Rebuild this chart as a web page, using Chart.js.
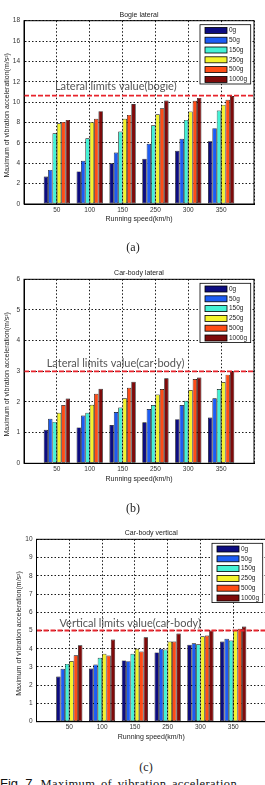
<!DOCTYPE html>
<html>
<head>
<meta charset="utf-8">
<script src="https://cdn.jsdelivr.net/npm/chart.js@4/dist/chart.umd.min.js"></script>
<style>
html, body { margin: 0; padding: 0; background: #fff; width: 265px; height: 785px; overflow: hidden; position: relative; }
.plot { position: absolute; left: 0; }
.cap { position: absolute; font-family: 'Liberation Serif', serif; font-size: 12px; line-height: 12px; color: #222; transform: translateX(-50%); }
#fig { position: absolute; left: 0; top: 776px; white-space: nowrap; line-height: 14px; color: #111; }
#fig .n { font-family: 'Liberation Sans', sans-serif; font-size: 13px; }
#fig .t { font-family: 'Liberation Serif', serif; font-size: 12.5px; letter-spacing: 0.4px; word-spacing: 2px; margin-left: 8px; }
</style>
</head>
<body>
<div class="plot" style="top:0"><canvas id="chartA" width="265" height="232"></canvas></div>
<div class="plot" style="top:250px"><canvas id="chartB" width="265" height="240"></canvas></div>
<div class="plot" style="top:510px"><canvas id="chartC" width="280" height="240"></canvas></div>
<div class="cap" style="left:133px;top:241px">(a)</div>
<div class="cap" style="left:133px;top:502px">(b)</div>
<div class="cap" style="left:146px;top:761px">(c)</div>
<div id="fig"><span class="n">Fig. 7</span><span class="t">Maximum of vibration acceleration</span></div>
<script>
// speeds on the x axis, loads are the series
const speeds = ['50', '100', '150', '250', '300', '350'];
const loads = ['0g', '50g', '150g', '250g', '500g', '1000g'];
const loadColors = ['#0c0c80', '#1c5cf4', '#44f2d6', '#f4f42c', '#ff4c16', '#7e0a0a'];

// Bogie lateral, one row per load
const bogieLateral = [
    [2.7, 3.2, 4.0, 4.44, 5.23, 6.15],
    [3.35, 4.25, 5.06, 5.91, 6.4, 7.45],
    [6.95, 6.45, 7.12, 7.74, 8.26, 9.17],
    [7.93, 8.04, 8.36, 8.82, 9.08, 9.73],
    [8.06, 8.36, 8.75, 9.4, 10.13, 10.23],
    [8.26, 9.12, 9.82, 10.16, 10.42, 10.6]
];
// Car-body lateral
const carbodyLateral = [
    [1.09, 1.17, 1.25, 1.34, 1.44, 1.49],
    [1.45, 1.56, 1.67, 1.77, 1.9, 2.12],
    [1.35, 1.65, 1.82, 1.9, 2.04, 2.42],
    [1.65, 1.91, 2.12, 2.24, 2.39, 2.65],
    [1.9, 2.27, 2.46, 2.42, 2.75, 2.89],
    [2.11, 2.43, 2.66, 2.77, 2.8, 3.0]
];
// Car-body vertical
const carbodyVertical = [
    [2.48, 2.92, 3.36, 3.8, 4.22, 4.4],
    [2.9, 3.13, 3.32, 4.0, 4.3, 4.55],
    [3.17, 3.5, 3.72, 3.96, 4.24, 4.45],
    [3.33, 3.72, 4.0, 4.4, 4.68, 5.02],
    [3.64, 3.63, 3.85, 4.4, 4.72, 5.1],
    [4.19, 4.5, 4.63, 4.83, 5.0, 5.22]
];

const titles = ['Bogie lateral', 'Car-body lateral', 'Car-body vertical'];
const limits = [10.65, 3.0, 5.0];
const limitLabels = ['Lateral limits value(bogie)', 'Lateral limits value(car-body)', 'Vertical limits value(car-body)'];
const yMax = [18, 6, 10];
const yStep = [2, 1, 1];

const yTitle = 'Maximum of vibration acceleration(m/s\u00b2)';
const xTitle = 'Running speed(km/h)';
const tickFont = {family: 'Liberation Sans', size: 6.5};
const tickColor = '#333';

// draws the box, titles, limit label and the matlab style legend
const matlabFrame = {
    id: 'matlabFrame',
    afterDraw(chart, args, opts) {
        const {ctx, chartArea: a} = chart;
        const xs = chart.scales.x, ys = chart.scales.y;
        ctx.save();

        ctx.strokeStyle = '#000';
        ctx.lineWidth = 1;
        ctx.strokeRect(a.left, a.top, a.right - a.left, a.bottom - a.top);

        ctx.fillStyle = '#222';
        ctx.font = '7px "Liberation Sans"';
        ctx.textAlign = 'center';
        ctx.textBaseline = 'middle';
        ctx.fillText(opts.title, (a.left + a.right) / 2, a.top - 6);
        ctx.fillText(xTitle, (a.left + a.right) / 2, a.bottom + 15.3);

        ctx.save();
        ctx.translate(a.left - 17, (a.top + a.bottom) / 2 + 3);
        ctx.rotate(-Math.PI / 2);
        ctx.fillText(yTitle, 0, 0);
        ctx.restore();

        // limit label sits just above the red dashed line
        ctx.fillStyle = '#555';
        ctx.font = '11px Lato';
        ctx.textAlign = 'left';
        ctx.textBaseline = 'alphabetic';
        ctx.fillText(opts.limitLabel, xs.getPixelForValue(opts.labelX), ys.getPixelForValue(opts.limit) - opts.labelGap);

        // legend box
        const w = 50.7, h = 59.3;
        const lx = a.right - 3.3 - w, ly = a.top + 4;
        ctx.fillStyle = '#fff';
        ctx.fillRect(lx, ly, w, h);
        ctx.lineWidth = 0.8;
        ctx.strokeStyle = '#000';
        ctx.strokeRect(lx, ly, w, h);
        ctx.font = '6.5px "Liberation Sans"';
        ctx.textBaseline = 'middle';
        loads.forEach((name, i) => {
            const cy = ly + 5.7 + i * 9.8;
            ctx.fillStyle = loadColors[i];
            ctx.fillRect(lx + 5, cy - 3, 22, 6);
            ctx.strokeRect(lx + 5, cy - 3, 22, 6);
            ctx.fillStyle = '#222';
            ctx.fillText(name, lx + 29, cy);
        });
        ctx.restore();
    }
};

function makeChart(id, k, box) {
    const datasets = loads.map((name, i) => ({
        type: 'bar',
        label: name,
        data: (k === 0 ? bogieLateral : k === 1 ? carbodyLateral : carbodyVertical)[i].map((v, j) => ({x: j + 1, y: v})),
        backgroundColor: loadColors[i],
        borderColor: '#000',
        borderWidth: 0.7,
        borderSkipped: false,
        categoryPercentage: 0.8,
        barPercentage: 1,
        order: 2
    }));
    datasets.push({
        type: 'line',
        label: 'limit',
        data: [{x: 0, y: limits[k]}, {x: 7, y: limits[k]}],
        borderColor: '#e8242c',
        borderWidth: 1.8,
        borderDash: [5, 2],
        pointRadius: 0,
        order: 0
    });

    return new Chart(document.getElementById(id), {
        type: 'bar',
        data: {datasets},
        plugins: [matlabFrame],
        options: {
            responsive: false,
            animation: false,
            events: [],
            layout: {padding: {top: box.top, right: box.right, bottom: 0, left: 0}},
            plugins: {
                legend: {display: false},
                tooltip: {enabled: false},
                title: {display: false},
                matlabFrame: {
                    title: titles[k],
                    limit: limits[k],
                    limitLabel: limitLabels[k],
                    labelX: box.labelX,
                    labelGap: box.labelGap
                }
            },
            scales: {
                x: {
                    type: 'linear',
                    min: 0,
                    max: 7,
                    offset: false,
                    afterBuildTicks: s => { s.ticks = [0, 1, 2, 3, 4, 5, 6, 7].map(v => ({value: v})); },
                    afterFit: s => { s.height = box.xh; },
                    ticks: {
                        autoSkip: false,
                        maxRotation: 0,
                        padding: 2,
                        font: tickFont,
                        color: tickColor,
                        callback: v => speeds[v - 1] || ''
                    },
                    grid: {offset: false, color: 'rgba(0,0,0,0.9)', lineWidth: 1, drawTicks: false},
                    border: {display: true, color: '#000', width: 1, dash: [1.5, 2]}
                },
                y: {
                    min: 0,
                    max: yMax[k],
                    afterFit: s => { s.width = box.left; },
                    ticks: {
                        stepSize: yStep[k],
                        padding: 4,
                        font: tickFont,
                        color: tickColor
                    },
                    grid: {color: 'rgba(0,0,0,0.9)', lineWidth: 1, drawTicks: false},
                    border: {display: true, color: '#000', width: 1, dash: [1.5, 2]}
                }
            }
        }
    });
}

makeChart('chartA', 0, {top: 20.7, right: 11, left: 24, xh: 28, labelX: 0.94, labelGap: 5.5});
makeChart('chartB', 1, {top: 29.3, right: 11, left: 24, xh: 26.7, labelX: 0.69, labelGap: 4.4});
makeChart('chartC', 2, {top: 29.3, right: 14, left: 36.5, xh: 28.3, labelX: 0.7, labelGap: 3.5});
</script>
</body>
</html>
